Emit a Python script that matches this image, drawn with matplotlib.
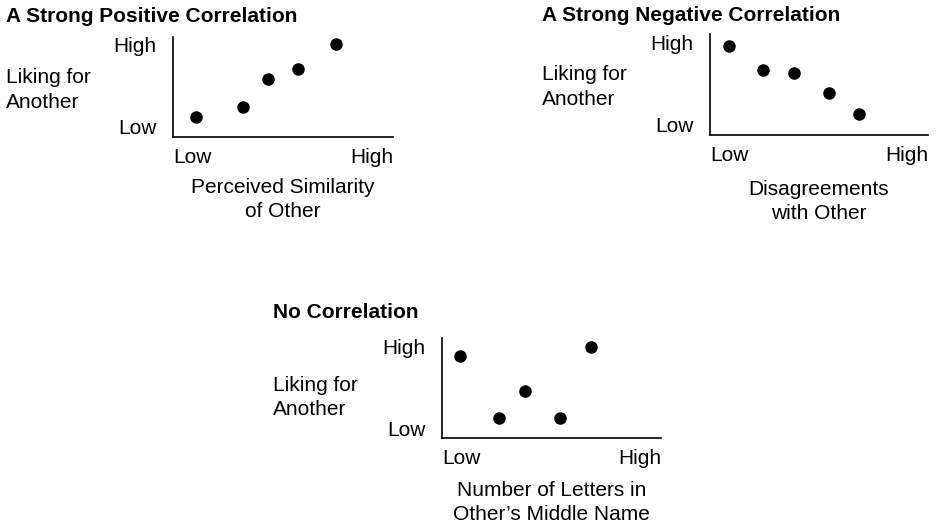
import matplotlib.pyplot as plt

plt.rcParams['font.family'] = ['Liberation Sans', 'DejaVu Sans']

# point positions on a 0-10 scale (low -> high)
pos_x = [1.05, 3.2, 4.3, 5.7, 7.4]
pos_y = [2.0, 3.0, 5.8, 6.8, 9.3]

neg_x = [0.87, 2.43, 3.85, 5.46, 6.83]
neg_y = [8.8, 6.4, 6.1, 4.2, 2.1]

none_x = [0.82, 2.6, 3.8, 5.4, 6.8]
none_y = [8.2, 2.0, 4.7, 2.0, 9.1]

tick_labels = ['Low', 'High']
y_label = 'Liking for\nAnother'

W, H = 937, 529
fig = plt.figure(figsize=(W / 100, H / 100), dpi=100)


def panel(left, top, right, bottom, xs, ys, title, xlabel, lab_x, lab_y, xl_y, t_y):
    ax = fig.add_axes([left / W, 1 - bottom / H, (right - left) / W, (bottom - top) / H])
    ax.scatter(xs, ys, s=64, color='black', zorder=3, clip_on=False)
    ax.set_xlim(0, 10)
    ax.set_ylim(0, 10)
    for s in ['top', 'right']:
        ax.spines[s].set_visible(False)
    for s in ['left', 'bottom']:
        ax.spines[s].set_linewidth(1.2)
    ax.set_yticks([1.0, 9.2], ['Low', 'High'], fontsize=15)
    ax.set_xticks([0, 10], tick_labels, fontsize=15)
    ax.tick_params(axis='both', length=0)
    ax.tick_params(axis='y', pad=12)
    ax.tick_params(axis='x', pad=8)
    xt = ax.get_xticklabels()
    xt[0].set_ha('left')
    xt[1].set_ha('right')
    ax.text(lab_x, lab_y, y_label, transform=ax.transAxes, ha='left', va='center',
            fontsize=15, linespacing=1.35)
    ax.set_xlabel(xlabel, fontsize=15, linespacing=1.35, va='center', ha='center')
    ax.xaxis.set_label_coords(0.5, xl_y)
    ax.set_title(title, loc='left', x=lab_x, y=t_y, va='center', fontsize=15,
                 fontweight='bold', pad=0)
    return ax


panel(173, 37, 393, 137, pos_x, pos_y, 'A Strong Positive Correlation',
      'Perceived Similarity\nof Other', -0.76, 0.47, -0.625, 1.21)
panel(710, 34, 928, 135, neg_x, neg_y, 'A Strong Negative Correlation',
      'Disagreements\nwith Other', -0.77, 0.475, -0.66, 1.18)
panel(442, 338, 661, 438, none_x, none_y, 'No Correlation',
      'Number of Letters in\nOther\u2019s Middle Name', -0.77, 0.405, -0.645, 1.25)

fig.savefig('out.png', dpi=100)
